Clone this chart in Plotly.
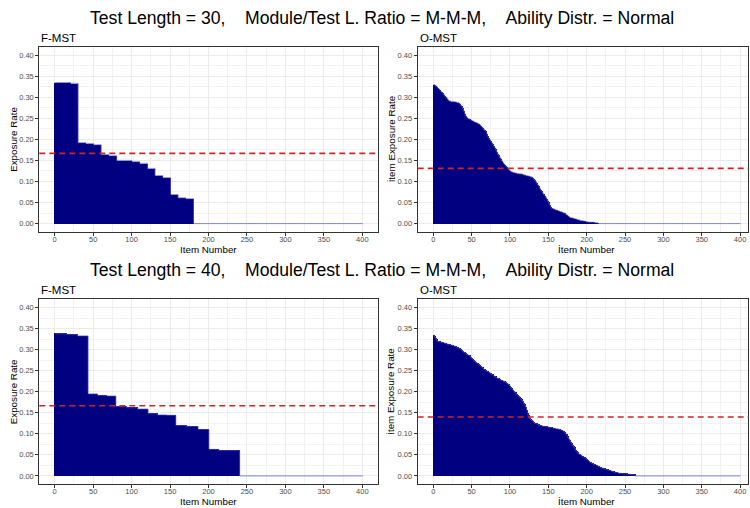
import plotly.graph_objects as go

# ---------------- data ----------------
n_items = 400
item_numbers = list(range(1, n_items + 1))

# F-MST, test length 30: module exposure rates (sorted) and items per module
fmst30_block_rates = [0.335, 0.335, 0.333, 0.192, 0.190, 0.187, 0.164, 0.161, 0.150,
                      0.150, 0.147, 0.143, 0.131, 0.114, 0.109, 0.069, 0.061, 0.059]
fmst30_block_sizes = [10, 10, 10, 10, 10, 10, 10, 10, 10,
                      10, 10, 10, 10, 10, 10, 10, 10, 10]

# F-MST, test length 40
fmst40_block_rates = [0.338, 0.336, 0.333, 0.195, 0.191, 0.190, 0.165, 0.162, 0.159,
                      0.148, 0.145, 0.144, 0.120, 0.117, 0.110, 0.063, 0.060, 0.060]
fmst40_block_sizes = [15, 14, 14, 12, 12, 12, 14, 14, 14,
                      12, 12, 12, 14, 15, 14, 13, 13, 14]

# O-MST, test length 30: sorted item exposure rates (non-zero part)
omst30_rates = [
    0.330, 0.329, 0.327, 0.326, 0.324, 0.322, 0.320, 0.318, 0.316, 0.314,
    0.312, 0.310, 0.308, 0.306, 0.303, 0.301, 0.299, 0.297, 0.295, 0.292,
    0.291, 0.291, 0.290, 0.290, 0.290, 0.290, 0.289, 0.289, 0.289, 0.288,
    0.288, 0.288, 0.287, 0.285, 0.283, 0.281, 0.279, 0.276, 0.272, 0.267,
    0.261, 0.256, 0.254, 0.252, 0.250, 0.249, 0.248, 0.247, 0.246, 0.245,
    0.244, 0.243, 0.242, 0.241, 0.240, 0.240, 0.239, 0.238, 0.237, 0.236,
    0.234, 0.232, 0.230, 0.228, 0.226, 0.224, 0.222, 0.220, 0.217, 0.213,
    0.208, 0.204, 0.201, 0.199, 0.196, 0.193, 0.190, 0.187, 0.184, 0.181,
    0.177, 0.174, 0.170, 0.166, 0.163, 0.160, 0.157, 0.154, 0.150, 0.147,
    0.145, 0.142, 0.140, 0.138, 0.136, 0.134, 0.131, 0.129, 0.127, 0.126,
    0.124, 0.123, 0.122, 0.122, 0.121, 0.121, 0.120, 0.120, 0.119, 0.119,
    0.119, 0.118, 0.118, 0.118, 0.118, 0.117, 0.116, 0.116, 0.115, 0.115,
    0.114, 0.114, 0.113, 0.113, 0.112, 0.112, 0.111, 0.111, 0.109, 0.108,
    0.106, 0.104, 0.102, 0.099, 0.096, 0.093, 0.090, 0.087, 0.084, 0.080,
    0.077, 0.075, 0.072, 0.070, 0.067, 0.065, 0.062, 0.058, 0.055, 0.051,
    0.047, 0.044, 0.040, 0.037, 0.036, 0.035, 0.035, 0.034, 0.033, 0.032,
    0.032, 0.031, 0.030, 0.030, 0.029, 0.028, 0.028, 0.027, 0.026, 0.025,
    0.025, 0.024, 0.022, 0.021, 0.019, 0.018, 0.016, 0.015, 0.014, 0.014,
    0.013, 0.013, 0.012, 0.012, 0.011, 0.011, 0.010, 0.010, 0.009, 0.009,
    0.008, 0.008, 0.007, 0.007, 0.006, 0.006, 0.006, 0.005, 0.005, 0.004,
    0.004, 0.004, 0.003, 0.003, 0.003, 0.003, 0.003, 0.003, 0.003, 0.002,
    0.002, 0.002, 0.002, 0.002,
]

# O-MST, test length 40
omst40_rates = [
    0.334, 0.331, 0.328, 0.325, 0.322, 0.320, 0.319, 0.319, 0.318, 0.318,
    0.317, 0.317, 0.317, 0.316, 0.316, 0.315, 0.314, 0.314, 0.313, 0.313,
    0.312, 0.312, 0.311, 0.311, 0.310, 0.309, 0.309, 0.308, 0.308, 0.307,
    0.306, 0.305, 0.304, 0.303, 0.302, 0.300, 0.299, 0.297, 0.296, 0.294,
    0.293, 0.292, 0.290, 0.289, 0.288, 0.287, 0.286, 0.284, 0.282, 0.280,
    0.278, 0.276, 0.274, 0.272, 0.271, 0.270, 0.268, 0.267, 0.265, 0.264,
    0.262, 0.261, 0.259, 0.258, 0.256, 0.254, 0.253, 0.252, 0.250, 0.249,
    0.248, 0.247, 0.246, 0.245, 0.243, 0.242, 0.241, 0.240, 0.238, 0.237,
    0.236, 0.234, 0.233, 0.232, 0.231, 0.230, 0.229, 0.228, 0.227, 0.226,
    0.226, 0.225, 0.224, 0.223, 0.222, 0.220, 0.219, 0.218, 0.216, 0.214,
    0.211, 0.209, 0.206, 0.204, 0.202, 0.200, 0.198, 0.196, 0.194, 0.192,
    0.190, 0.188, 0.186, 0.184, 0.181, 0.179, 0.177, 0.173, 0.170, 0.166,
    0.163, 0.156, 0.150, 0.143, 0.139, 0.136, 0.134, 0.132, 0.131, 0.130,
    0.127, 0.125, 0.124, 0.124, 0.124, 0.123, 0.122, 0.121, 0.120, 0.120,
    0.119, 0.119, 0.118, 0.118, 0.118, 0.117, 0.117, 0.117, 0.116, 0.116,
    0.116, 0.115, 0.115, 0.115, 0.114, 0.114, 0.113, 0.113, 0.113, 0.112,
    0.112, 0.112, 0.111, 0.111, 0.110, 0.109, 0.109, 0.108, 0.107, 0.106,
    0.104, 0.102, 0.100, 0.098, 0.095, 0.091, 0.088, 0.084, 0.081, 0.078,
    0.075, 0.072, 0.070, 0.067, 0.064, 0.061, 0.059, 0.056, 0.054, 0.052,
    0.051, 0.050, 0.049, 0.047, 0.046, 0.045, 0.044, 0.043, 0.041, 0.040,
    0.038, 0.037, 0.035, 0.033, 0.032, 0.031, 0.030, 0.029, 0.028, 0.027,
    0.027, 0.026, 0.025, 0.024, 0.023, 0.022, 0.021, 0.020, 0.019, 0.019,
    0.018, 0.018, 0.017, 0.016, 0.016, 0.015, 0.015, 0.014, 0.013, 0.013,
    0.012, 0.012, 0.011, 0.010, 0.010, 0.009, 0.009, 0.008, 0.008, 0.007,
    0.007, 0.007, 0.006, 0.006, 0.006, 0.006, 0.005, 0.005, 0.005, 0.005,
    0.005, 0.005, 0.004, 0.004, 0.004, 0.004, 0.004, 0.003, 0.003, 0.003,
    0.003, 0.003, 0.002,
]

# reference (mean exposure) lines
target_fmst30 = 0.1667
target_omst30 = 0.131
target_fmst40 = 0.1667
target_omst40 = 0.140

row_titles = [
    "Test Length = 30,\u00a0\u00a0\u00a0\u00a0Module/Test L. Ratio = M-M-M,\u00a0\u00a0\u00a0\u00a0Ability Distr. = Normal",
    "Test Length = 40,\u00a0\u00a0\u00a0\u00a0Module/Test L. Ratio = M-M-M,\u00a0\u00a0\u00a0\u00a0Ability Distr. = Normal",
]
panel_titles = ["F-MST", "O-MST", "F-MST", "O-MST"]
x_titles = ["Item Number", "\u0130tem Number", "Item Number", "\u0130tem Number"]
y_titles = ["Exposure Rate", "\u0130tem Exposure Rate", "Exposure Rate", "\u0130tem Exposure Rate"]
y_tick_vals = [0.00, 0.05, 0.10, 0.15, 0.20, 0.25, 0.30, 0.35, 0.40]
x_tick_vals = [0, 50, 100, 150, 200, 250, 300, 350, 400]


def expand(rates, sizes):
    out = []
    for r, s in zip(rates, sizes):
        out += [r] * s
    return out


def pad(vals):
    return vals + [0.0] * (n_items - len(vals))


panels = [
    pad(expand(fmst30_block_rates, fmst30_block_sizes)),
    pad(omst30_rates),
    pad(expand(fmst40_block_rates, fmst40_block_sizes)),
    pad(omst40_rates),
]
targets = [target_fmst30, target_omst30, target_fmst40, target_omst40]

# ---------------- layout geometry (pixels) ----------------
W, H = 750, 508
px_left = [(39.3, 377.7), (417.7, 748.3), (39.3, 377.7), (417.7, 748.3)]
px_top = [(46.7, 232.0), (46.7, 232.0), (299.3, 484.3), (299.3, 484.3)]
x_ranges = [[-20, 420], [-20.3, 410.7], [-20, 420], [-20.3, 410.7]]

NAVY = "#000080"
EDGE = "rgba(80,80,200,0.75)"
RED = "#CD2626"
FONT = "Liberation Sans, Arial, sans-serif"

fig = go.Figure()
annotations = []
shapes = []

for k in range(4):
    sfx = "" if k == 0 else str(k + 1)
    xa, ya = "x" + sfx, "y" + sfx
    vals = panels[k]
    edge_x = [i - 0.5 for i in item_numbers] + [item_numbers[-1] + 0.5]
    edge_y = vals + [vals[-1]]
    fig.add_trace(go.Scatter(x=edge_x, y=edge_y, mode="lines", line=dict(color=EDGE, width=1, shape="hv"),
                             xaxis=xa, yaxis=ya, showlegend=False, hoverinfo="skip"))
    fig.add_trace(go.Bar(x=item_numbers, y=vals, width=1.0, marker=dict(color=NAVY, line=dict(width=0)),
                         xaxis=xa, yaxis=ya, showlegend=False))
    shapes.append(dict(type="line", xref=xa + " domain", yref=ya, x0=0, x1=1, y0=targets[k], y1=targets[k],
                       line=dict(color=RED, width=1.6, dash="6px,4px"), layer="above"))

    l, r = px_left[k]
    t, b = px_top[k]
    axis_common = dict(showline=True, linecolor="#333333", linewidth=1, mirror=True,
                       ticks="outside", ticklen=3, tickcolor="#333333", tickwidth=1,
                       tickfont=dict(family=FONT, size=7.5, color="#4D4D4D"),
                       showgrid=True, gridcolor="#EBEBEB", gridwidth=1, zeroline=False)
    fig.layout["xaxis" + sfx] = dict(axis_common, domain=[l / W, r / W], anchor=ya, range=x_ranges[k],
                                     tickvals=x_tick_vals,
                                     minor=dict(showgrid=True, gridcolor="#F2F2F2", gridwidth=0.6,
                                                tickvals=[25, 75, 125, 175, 225, 275, 325, 375]))
    try:
        fig.layout["xaxis" + sfx].ticklabelstandoff = -3
    except Exception:
        pass
    fig.layout["yaxis" + sfx] = dict(axis_common, domain=[1 - b / H, 1 - t / H], anchor=xa, range=[-0.02, 0.42],
                                     tickvals=y_tick_vals, tickformat=".2f",
                                     minor=dict(showgrid=True, gridcolor="#F2F2F2", gridwidth=0.6,
                                                tickvals=[0.025, 0.075, 0.125, 0.175, 0.225, 0.275, 0.325, 0.375]))
    annotations.append(dict(text=panel_titles[k], x=l / W, y=1 - (t - 9) / H, xref="paper", yref="paper",
                            xanchor="left", yanchor="middle", showarrow=False,
                            font=dict(family=FONT, size=11.5, color="#000000")))
    annotations.append(dict(text=x_titles[k], x=((l + r) / 2 + (0 if k % 2 == 0 else 3)) / W,
                            y=1 - (b + 17.5) / H, xref="paper", yref="paper",
                            xanchor="center", yanchor="middle", showarrow=False,
                            font=dict(family=FONT, size=9.8, color="#000000")))
    annotations.append(dict(text=y_titles[k], x=(13.5 if k % 2 == 0 else 391) / W,
                            y=1 - ((t + b) / 2) / H, xref="paper", yref="paper", textangle=-90,
                            xanchor="center", yanchor="middle", showarrow=False,
                            font=dict(family=FONT, size=9.8, color="#000000")))

for i, ty in enumerate([17.5, 270.0]):
    annotations.append(dict(text=row_titles[i], x=381.5 / W, y=1 - ty / H, xref="paper", yref="paper",
                            xanchor="center", yanchor="middle", showarrow=False,
                            font=dict(family=FONT, size=17.6, color="#000000")))

fig.update_layout(width=W, height=H, margin=dict(l=0, r=0, t=0, b=0),
                  paper_bgcolor="white", plot_bgcolor="white", bargap=0,
                  annotations=annotations, shapes=shapes, showlegend=False)

fig.write_html("out.html")
